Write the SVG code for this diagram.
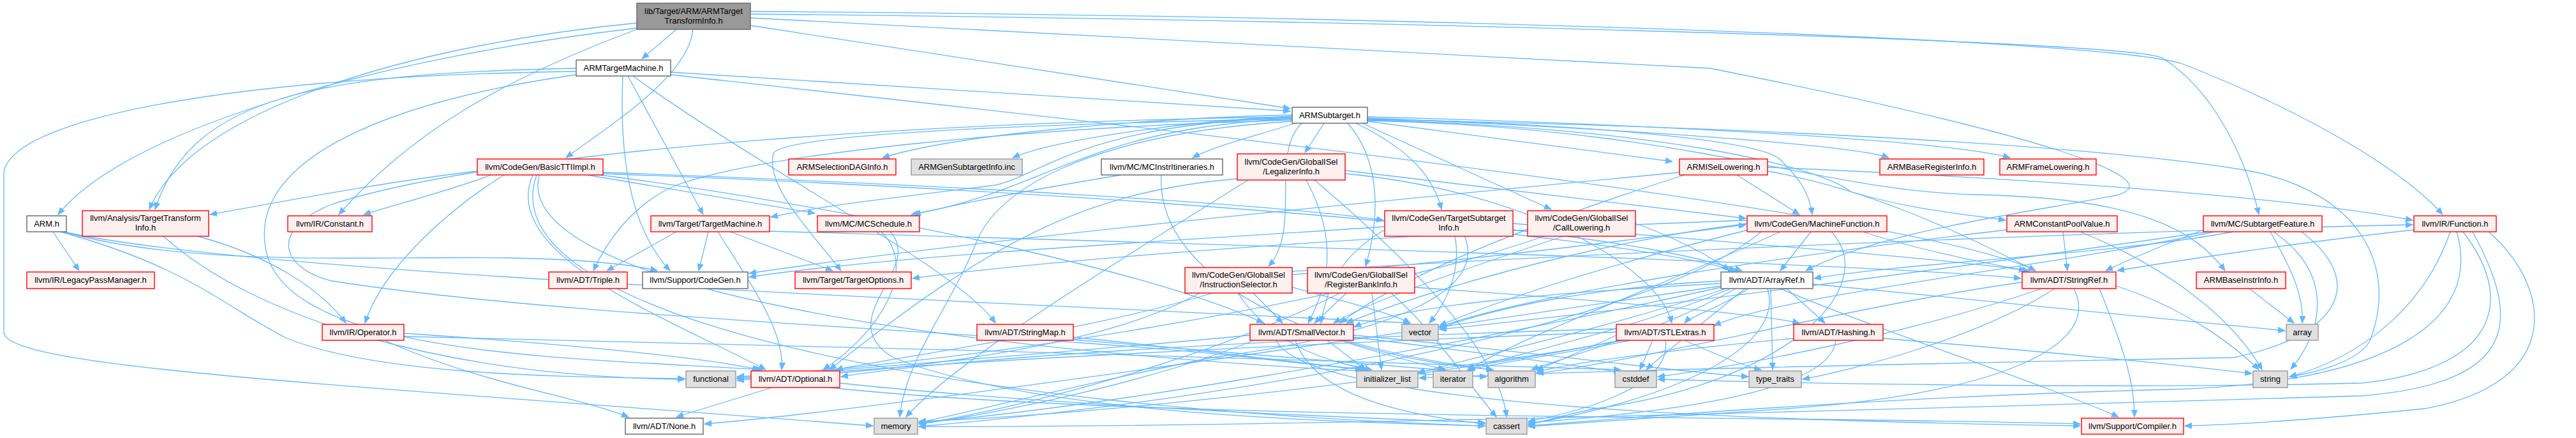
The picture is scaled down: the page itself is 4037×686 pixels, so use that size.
<svg xmlns="http://www.w3.org/2000/svg" width="4037" height="686" viewBox="0 0 4037 686">
<defs>
<style>
.e path{fill:none;stroke:#63b8ff;stroke-width:1.3;marker-end:url(#a)}
.n rect{stroke-width:1.4}
.r rect{fill:#fff0f0;stroke:#ff0000}
.g rect{fill:#e0e0e0;stroke:#999999}
.w rect{fill:#ffffff;stroke:#666666}
.m rect{fill:#999999;stroke:#666666}
text{font-family:"Liberation Sans",Arial,Helvetica,sans-serif;font-size:13px;fill:#000000;text-anchor:middle}
</style>
<marker id="a" markerWidth="12" markerHeight="10" refX="11" refY="5" orient="auto" markerUnits="userSpaceOnUse"><path d="M0,0.5 L11,5 L0,9.5 z" fill="#63b8ff" stroke="#63b8ff"/></marker>
</defs>
<rect width="4037" height="686" fill="#ffffff"/>
<g id="edges" class="e">
<path d="M1060,46 L1006,92"/>
<path d="M1177,40 L2022,170"/>
<path d="M998,44 C600,90 200,200 91,336"/>
<path d="M998,36 C650,70 300,170 234,328"/>
<path d="M998,46 C800,120 650,200 531,336"/>
<path d="M1086,46 C1080,120 950,200 887,247"/>
<path d="M1177,28 L2680,107 C3200,210 3400,280 3320,305 C3200,330 2950,360 2830,424"/>
<path d="M1177,22 C2000,30 3300,60 3387,90 C3470,140 3520,250 3540,336"/>
<path d="M1177,18 C2200,25 3300,60 3420,100 C3600,170 3760,260 3828,336"/>
<path d="M1051,113 L2022,174"/>
<path d="M903,107 C500,115 300,150 243,328"/>
<path d="M903,112 C400,118 20,180 6,270 L6,520 C6,575 500,600 1368,667"/>
<path d="M976,119 C970,250 990,360 1050,424"/>
<path d="M984,119 L1102,336"/>
<path d="M903,117 C600,160 400,250 415,380 C430,560 900,560 1195,579"/>
<path d="M992,119 C1200,270 1500,420 1560,506"/>
<path d="M1051,117 C1800,200 3000,330 3190,424"/>
<path d="M2025,180 C1800,185 1500,210 1383,247"/>
<path d="M2025,182 C1850,190 1650,220 1587,247"/>
<path d="M2030,193 C1960,215 1900,230 1869,247"/>
<path d="M2075,193 L2045,239"/>
<path d="M2025,186 C1700,200 1640,300 1428,336"/>
<path d="M2025,184 C1700,195 1640,270 1560,290 C1400,310 1300,320 1208,340"/>
<path d="M2025,188 C1600,200 1200,240 1060,290 C990,320 950,380 930,424"/>
<path d="M2025,186 C1600,195 1230,210 1212,240 C1200,290 1260,350 1318,424"/>
<path d="M2025,183 C1500,190 800,230 520,320 C420,360 440,420 520,440 C900,500 1600,520 1960,560 C2000,565 2100,575 2135,579"/>
<path d="M2040,193 C1990,240 2040,360 1988,417"/>
<path d="M2112,193 C2168,257 2160,350 2140,417"/>
<path d="M2125,193 C2200,230 2245,270 2259,328"/>
<path d="M2135,193 L2431,328"/>
<path d="M2143,190 L2621,253"/>
<path d="M2143,185 C2500,200 2900,225 2960,247"/>
<path d="M2143,183 C2600,195 3050,220 3150,247"/>
<path d="M2143,186 C2500,195 2760,220 2790,250 C2820,280 2835,300 2840,336"/>
<path d="M2143,188 C2600,200 2850,260 2900,300 C3000,330 3080,335 3143,345"/>
<path d="M2143,189 C2650,200 2850,300 3100,305 C3350,310 3440,360 3487,424"/>
<path d="M2025,190 C1700,210 1560,300 1530,380 C1490,480 1420,560 1410,653"/>
<path d="M2143,187 C2800,200 3300,230 3522,267 C3700,300 3760,420 3713,536 C3690,570 3620,585 3588,590"/>
<path d="M748,268 C600,285 420,320 329,336"/>
<path d="M770,274 C700,300 620,320 570,336"/>
<path d="M790,274 C700,330 600,420 572,506"/>
<path d="M920,274 L1277,334"/>
<path d="M945,270 C1500,290 2000,320 2168,345"/>
<path d="M945,272 C1700,300 2500,360 2720,424"/>
<path d="M940,274 C1300,320 1800,420 1980,506"/>
<path d="M835,274 C780,400 1050,500 1200,579"/>
<path d="M845,274 C800,450 1500,560 2330,590"/>
<path d="M841,274 C760,500 1500,640 2327,667"/>
<path d="M256,370 C400,500 700,590 1073,594"/>
<path d="M310,370 C420,400 500,450 542,506"/>
<path d="M83,363 L124,424"/>
<path d="M100,363 C300,420 600,400 800,404 C900,406 980,412 1030,424"/>
<path d="M100,363 C400,430 1500,470 2210,506"/>
<path d="M95,363 C300,420 350,480 450,530 C600,590 900,590 1073,593"/>
<path d="M603,533 C750,600 900,620 985,653"/>
<path d="M633,522 C900,540 1100,560 1190,579"/>
<path d="M633,527 C1200,540 2000,560 2540,579"/>
<path d="M1060,363 L951,424"/>
<path d="M1110,363 L1095,424"/>
<path d="M1145,363 L1305,424"/>
<path d="M1125,363 C1180,450 1230,520 1225,579"/>
<path d="M1205,362 C1800,380 2900,410 3167,436"/>
<path d="M1381,363 C1440,420 1380,520 1290,579"/>
<path d="M1395,363 C1450,420 1300,500 1400,560 C1600,640 2000,660 2327,667"/>
<path d="M1757,274 C1600,300 1500,320 1432,336"/>
<path d="M1820,274 C1810,450 2100,560 2340,579"/>
<path d="M1939,280 C1700,300 1550,380 1300,579"/>
<path d="M1956,282 C1800,380 1500,560 1420,653"/>
<path d="M2047,282 C2100,380 2080,450 2050,506"/>
<path d="M2060,282 C2200,400 2350,550 2361,653"/>
<path d="M2108,272 C2400,300 2600,420 2620,506"/>
<path d="M2108,267 L2736,342"/>
<path d="M1964,459 L2010,506"/>
<path d="M2025,430 C2300,410 2600,370 2736,352"/>
<path d="M1900,459 C1700,520 1400,560 1310,579"/>
<path d="M1880,459 C1700,560 1300,590 1155,593"/>
<path d="M1940,459 C2000,550 2100,570 2150,579"/>
<path d="M2025,450 C2100,470 2180,490 2210,506"/>
<path d="M2025,425 C2600,390 3400,360 3781,352"/>
<path d="M2110,459 L2060,506"/>
<path d="M2217,450 C2500,470 2750,490 2820,506"/>
<path d="M2150,459 L2165,579"/>
<path d="M2180,459 C2250,520 2300,600 2345,653"/>
<path d="M2100,459 C1900,560 1600,640 1440,664"/>
<path d="M2280,370 C2290,420 2270,470 2240,506"/>
<path d="M2295,370 C2330,450 2200,520 1900,560 C1700,600 1500,650 1440,662"/>
<path d="M2170,360 C2100,400 2080,450 2070,506"/>
<path d="M2371,360 C2550,380 2650,400 2730,424"/>
<path d="M2371,350 C2700,380 3000,400 3180,424"/>
<path d="M2170,355 C1800,380 1400,400 1174,434"/>
<path d="M2450,370 C2300,420 2150,470 2090,506"/>
<path d="M2563,350 C2620,370 2680,400 2710,424"/>
<path d="M2420,370 C2100,480 1500,570 1155,590"/>
<path d="M2722,274 L2820,336"/>
<path d="M2640,274 C2400,350 2200,430 2100,506"/>
<path d="M2770,268 C2950,300 3100,380 3190,424"/>
<path d="M2770,262 C3200,280 3600,310 3781,345"/>
<path d="M2632,270 C2000,330 1500,380 1174,428"/>
<path d="M2838,363 L2790,424"/>
<path d="M2920,363 C3000,390 3100,410 3175,424"/>
<path d="M2738,350 C2500,380 2250,450 2110,506"/>
<path d="M2738,345 C2300,360 1700,400 1430,436"/>
<path d="M2870,363 C2950,450 2800,600 2500,640 C2450,650 2420,660 2395,665"/>
<path d="M2760,363 C2600,500 2000,620 1440,668"/>
<path d="M2740,360 C2500,420 2350,470 2256,510"/>
<path d="M2790,363 C2600,450 2400,520 2300,579"/>
<path d="M3233,363 L3240,424"/>
<path d="M3260,363 C3400,420 3500,500 3545,579"/>
<path d="M3145,360 C2800,400 2400,460 2256,512"/>
<path d="M3453,360 C3400,380 3350,400 3300,424"/>
<path d="M3500,363 C3300,400 3000,410 2843,436"/>
<path d="M3470,363 C3200,420 2800,460 2686,510"/>
<path d="M3558,363 C3590,420 3610,460 3608,506"/>
<path d="M3563,363 C3660,430 3640,520 3590,578"/>
<path d="M3607,363 C3720,450 3650,530 3500,560 C3000,570 2500,580 2224,592"/>
<path d="M3460,363 C3200,400 2700,470 2256,516"/>
<path d="M3783,360 C3600,380 3400,410 3318,424"/>
<path d="M3840,363 C3800,480 3700,560 3588,590"/>
<path d="M3850,363 C3890,500 3750,600 3400,610 C3000,620 2600,650 2395,667"/>
<path d="M3860,363 C3950,480 3900,580 3700,600 C3300,610 2800,600 2598,594"/>
<path d="M3875,363 C3950,500 3950,600 3700,620 C3000,640 2000,670 1440,668"/>
<path d="M3900,363 C4000,450 4020,600 3800,640 C3600,660 3500,665 3424,667"/>
<path d="M2800,452 L2860,506"/>
<path d="M2740,452 C2700,480 2650,495 2640,506"/>
<path d="M2697,444 C2400,460 2200,480 2122,512"/>
<path d="M2697,448 C2200,520 1400,640 1104,664"/>
<path d="M2790,452 C2950,520 3200,600 3320,653"/>
<path d="M2720,452 C2600,520 2450,560 2400,579"/>
<path d="M2841,445 C3100,470 3400,500 3581,518"/>
<path d="M2770,452 C2800,550 2600,630 2395,664"/>
<path d="M2735,452 C2650,520 2600,560 2580,579"/>
<path d="M2705,452 C2500,520 2300,560 2222,585"/>
<path d="M2712,452 C2550,520 2350,560 2300,579"/>
<path d="M2697,450 C2200,560 1700,640 1440,662"/>
<path d="M2775,452 L2778,579"/>
<path d="M2697,440 C2500,450 2350,480 2256,514"/>
<path d="M3290,452 C3330,550 3345,600 3345,653"/>
<path d="M3316,448 C3420,480 3500,540 3540,579"/>
<path d="M3169,442 C2900,480 2600,560 2408,585"/>
<path d="M3200,452 C3000,520 2750,570 2598,590"/>
<path d="M3220,452 C3100,530 2900,580 2825,594"/>
<path d="M3250,452 C3300,550 3100,620 2800,640 C2600,655 2450,665 2395,668"/>
<path d="M2811,530 C2600,550 2450,570 2408,583"/>
<path d="M2877,533 C2870,600 2700,640 2395,662"/>
<path d="M2951,530 C3200,550 3400,570 3529,585"/>
<path d="M2590,533 L2570,579"/>
<path d="M2533,515 C2000,530 1500,560 1318,590"/>
<path d="M2533,525 C2480,550 2430,570 2408,580"/>
<path d="M2610,533 C2620,600 2500,640 2395,660"/>
<path d="M2533,520 C2000,540 1400,570 1155,596"/>
<path d="M2545,533 C2400,560 2260,575 2222,583"/>
<path d="M2555,533 C2450,555 2330,570 2300,580"/>
<path d="M2540,533 C2200,600 1700,650 1440,660"/>
<path d="M2640,533 C2700,560 2740,575 2760,579"/>
<path d="M2080,533 L2140,579"/>
<path d="M2100,533 C2180,560 2250,575 2265,579"/>
<path d="M2110,533 C2200,560 2300,575 2340,579"/>
<path d="M2121,528 C2300,550 2450,570 2540,583"/>
<path d="M2121,525 C2400,550 2600,580 2740,590"/>
<path d="M2030,533 C2060,620 2200,650 2327,664"/>
<path d="M2000,533 C2050,640 2800,660 3260,667"/>
<path d="M1959,525 C1700,550 1300,580 1155,592"/>
<path d="M1965,533 C1800,600 1550,650 1440,664"/>
<path d="M1210,607 L1060,653"/>
<path d="M1300,607 C1800,660 2800,650 3260,664"/>
<path d="M1316,600 C1600,630 2000,650 2327,662"/>
<path d="M1682,528 C1900,550 2050,570 2140,579"/>
<path d="M1682,532 C1950,555 2150,570 2265,580"/>
<path d="M3525,452 L3595,506"/>
</g>
<g id="n_main" class="n m"><rect x="998" y="5" width="178" height="41"/><text x="1087" y="22">lib/Target/ARM/ARMTarget</text><text x="1087" y="37">TransformInfo.h</text></g>
<g id="n_atm" class="n w"><rect x="903" y="94" width="148" height="25"/><text x="977" y="111">ARMTargetMachine.h</text></g>
<g id="n_ast" class="n w"><rect x="2025" y="168" width="118" height="25"/><text x="2084" y="185">ARMSubtarget.h</text></g>
<g id="n_bti" class="n r"><rect x="748" y="249" width="197" height="25"/><text x="846.5" y="266">llvm/CodeGen/BasicTTIImpl.h</text></g>
<g id="n_sdag" class="n r"><rect x="1236" y="249" width="168" height="25"/><text x="1320" y="266">ARMSelectionDAGInfo.h</text></g>
<g id="n_gsi" class="n g"><rect x="1428" y="249" width="174" height="25"/><text x="1515" y="266">ARMGenSubtargetInfo.inc</text></g>
<g id="n_mii" class="n w"><rect x="1726" y="249" width="190" height="25"/><text x="1821" y="266">llvm/MC/MCInstrItineraries.h</text></g>
<g id="n_lgi" class="n r"><rect x="1939" y="241" width="169" height="41"/><text x="2023.5" y="258">llvm/CodeGen/GlobalISel</text><text x="2023.5" y="273">/LegalizerInfo.h</text></g>
<g id="n_isl" class="n r"><rect x="2632" y="249" width="138" height="25"/><text x="2701" y="266">ARMISelLowering.h</text></g>
<g id="n_bri" class="n r"><rect x="2946" y="249" width="163" height="25"/><text x="3027.5" y="266">ARMBaseRegisterInfo.h</text></g>
<g id="n_afl" class="n r"><rect x="3134" y="249" width="151" height="25"/><text x="3209.5" y="266">ARMFrameLowering.h</text></g>
<g id="n_tti" class="n r"><rect x="129" y="330" width="198" height="40"/><text x="228" y="346">llvm/Analysis/TargetTransform</text><text x="228" y="361">Info.h</text></g>
<g id="n_arm" class="n w"><rect x="42" y="338" width="62" height="25"/><text x="73" y="355">ARM.h</text></g>
<g id="n_con" class="n r"><rect x="451" y="338" width="132" height="25"/><text x="517" y="355">llvm/IR/Constant.h</text></g>
<g id="n_tm" class="n r"><rect x="1020" y="338" width="186" height="25"/><text x="1113" y="355">llvm/Target/TargetMachine.h</text></g>
<g id="n_mcs" class="n r"><rect x="1281" y="338" width="160" height="25"/><text x="1361" y="355">llvm/MC/MCSchedule.h</text></g>
<g id="n_tsi" class="n r"><rect x="2170" y="330" width="201" height="40"/><text x="2270.5" y="346">llvm/CodeGen/TargetSubtarget</text><text x="2270.5" y="361">Info.h</text></g>
<g id="n_clw" class="n r"><rect x="2394" y="330" width="169" height="40"/><text x="2478.5" y="346">llvm/CodeGen/GlobalISel</text><text x="2478.5" y="361">/CallLowering.h</text></g>
<g id="n_mf" class="n r"><rect x="2738" y="338" width="219" height="25"/><text x="2847.5" y="355">llvm/CodeGen/MachineFunction.h</text></g>
<g id="n_cpv" class="n r"><rect x="3145" y="338" width="173" height="25"/><text x="3231.5" y="355">ARMConstantPoolValue.h</text></g>
<g id="n_sf" class="n r"><rect x="3453" y="338" width="186" height="25"/><text x="3546" y="355">llvm/MC/SubtargetFeature.h</text></g>
<g id="n_fn" class="n r"><rect x="3783" y="338" width="129" height="25"/><text x="3847.5" y="355">llvm/IR/Function.h</text></g>
<g id="n_lpm" class="n r"><rect x="42" y="426" width="200" height="26"/><text x="142" y="443">llvm/IR/LegacyPassManager.h</text></g>
<g id="n_tri" class="n r"><rect x="860" y="426" width="123" height="26"/><text x="921.5" y="443">llvm/ADT/Triple.h</text></g>
<g id="n_cg" class="n w"><rect x="1007" y="426" width="165" height="26"/><text x="1089.5" y="443">llvm/Support/CodeGen.h</text></g>
<g id="n_to" class="n r"><rect x="1246" y="426" width="182" height="26"/><text x="1337" y="443">llvm/Target/TargetOptions.h</text></g>
<g id="n_is" class="n r"><rect x="1857" y="419" width="168" height="40"/><text x="1941" y="435">llvm/CodeGen/GlobalISel</text><text x="1941" y="450">/InstructionSelector.h</text></g>
<g id="n_rbi" class="n r"><rect x="2049" y="419" width="168" height="40"/><text x="2133" y="435">llvm/CodeGen/GlobalISel</text><text x="2133" y="450">/RegisterBankInfo.h</text></g>
<g id="n_ar" class="n w"><rect x="2697" y="426" width="144" height="26"/><text x="2769" y="443">llvm/ADT/ArrayRef.h</text></g>
<g id="n_sr" class="n r"><rect x="3169" y="426" width="147" height="26"/><text x="3242.5" y="443">llvm/ADT/StringRef.h</text></g>
<g id="n_bii" class="n r"><rect x="3442" y="426" width="140" height="26"/><text x="3512" y="443">ARMBaseInstrInfo.h</text></g>
<g id="n_op" class="n r"><rect x="505" y="508" width="128" height="25"/><text x="569" y="525">llvm/IR/Operator.h</text></g>
<g id="n_sm" class="n r"><rect x="1531" y="508" width="151" height="25"/><text x="1606.5" y="525">llvm/ADT/StringMap.h</text></g>
<g id="n_sv" class="n r"><rect x="1959" y="508" width="162" height="25"/><text x="2040" y="525">llvm/ADT/SmallVector.h</text></g>
<g id="n_vec" class="n g"><rect x="2197" y="508" width="57" height="25"/><text x="2225.5" y="525">vector</text></g>
<g id="n_stl" class="n r"><rect x="2533" y="508" width="153" height="25"/><text x="2609.5" y="525">llvm/ADT/STLExtras.h</text></g>
<g id="n_hsh" class="n r"><rect x="2811" y="508" width="140" height="25"/><text x="2881" y="525">llvm/ADT/Hashing.h</text></g>
<g id="n_ary" class="n g"><rect x="3583" y="508" width="50" height="25"/><text x="3608" y="525">array</text></g>
<g id="n_func" class="n g"><rect x="1075" y="581" width="78" height="26"/><text x="1114" y="598">functional</text></g>
<g id="n_opt" class="n r"><rect x="1177" y="581" width="139" height="26"/><text x="1246.5" y="598">llvm/ADT/Optional.h</text></g>
<g id="n_il" class="n g"><rect x="2126" y="581" width="96" height="26"/><text x="2174" y="598">initializer_list</text></g>
<g id="n_it" class="n g"><rect x="2246" y="581" width="62" height="26"/><text x="2277" y="598">iterator</text></g>
<g id="n_alg" class="n g"><rect x="2332" y="581" width="74" height="26"/><text x="2369" y="598">algorithm</text></g>
<g id="n_csd" class="n g"><rect x="2531" y="581" width="65" height="26"/><text x="2563.5" y="598">cstddef</text></g>
<g id="n_tt" class="n g"><rect x="2741" y="581" width="82" height="26"/><text x="2782" y="598">type_traits</text></g>
<g id="n_str" class="n g"><rect x="3531" y="581" width="54" height="26"/><text x="3558" y="598">string</text></g>
<g id="n_none" class="n w"><rect x="980" y="655" width="122" height="25"/><text x="1041" y="672">llvm/ADT/None.h</text></g>
<g id="n_mem" class="n g"><rect x="1370" y="655" width="68" height="25"/><text x="1404" y="672">memory</text></g>
<g id="n_cas" class="n g"><rect x="2329" y="655" width="64" height="25"/><text x="2361" y="672">cassert</text></g>
<g id="n_cmp" class="n r"><rect x="3262" y="655" width="160" height="25"/><text x="3342" y="672">llvm/Support/Compiler.h</text></g>
</svg>
